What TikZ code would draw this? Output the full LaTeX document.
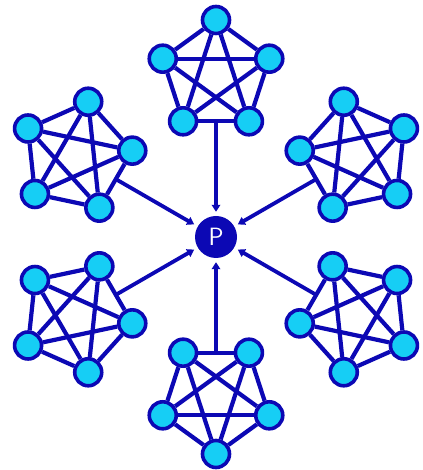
\documentclass[tikz,border=0pt]{standalone}
\usepackage{tikz}
\usetikzlibrary{calc, positioning, arrows.meta}
\definecolor{netBlue}{RGB}{12, 8, 180}
\definecolor{hubCyan}{RGB}{22, 206, 245}

\begin{document}
\begin{tikzpicture}[x=1pt, y=1pt, >={Triangle[length=7pt, width=8.5pt]},
    hub/.style={circle, draw=netBlue, fill=hubCyan, line width=3.6pt,
                inner sep=0pt, minimum size=27pt},
    link/.style={netBlue, line width=4.2pt},
    feed/.style={->, netBlue, line width=3.8pt, shorten >=4pt}]
  \useasboundingbox (0, 0) rectangle (422, 470);

  % Server P
  \node[circle, fill=netBlue, inner sep=0pt, minimum size=42pt,
        text=white, font=\sffamily\fontsize{25}{25}\selectfont] (P) at (216, 233) {P};

  % Six peer groups (complete graphs on five hosts)
  \foreach \a in {90, 150, 210, 270, 330, 30} {
    \coordinate (c\a) at ($(P)+(\a:161)$);
    \foreach \k in {0, ..., 4}
      \node[hub] (n\a-\k) at ($(c\a)+(\a+72*\k:56)$) {};
    \foreach \i/\j in {0/1, 0/2, 0/3, 0/4, 1/2, 1/3, 1/4, 2/3, 2/4, 3/4}
      \draw[link] (n\a-\i) -- (n\a-\j);
    % link towards P
    \coordinate (m\a) at ($(n\a-2)!0.5!(n\a-3)$);
    \draw[feed] (m\a) -- (P);
  }
\end{tikzpicture}
\end{document}
